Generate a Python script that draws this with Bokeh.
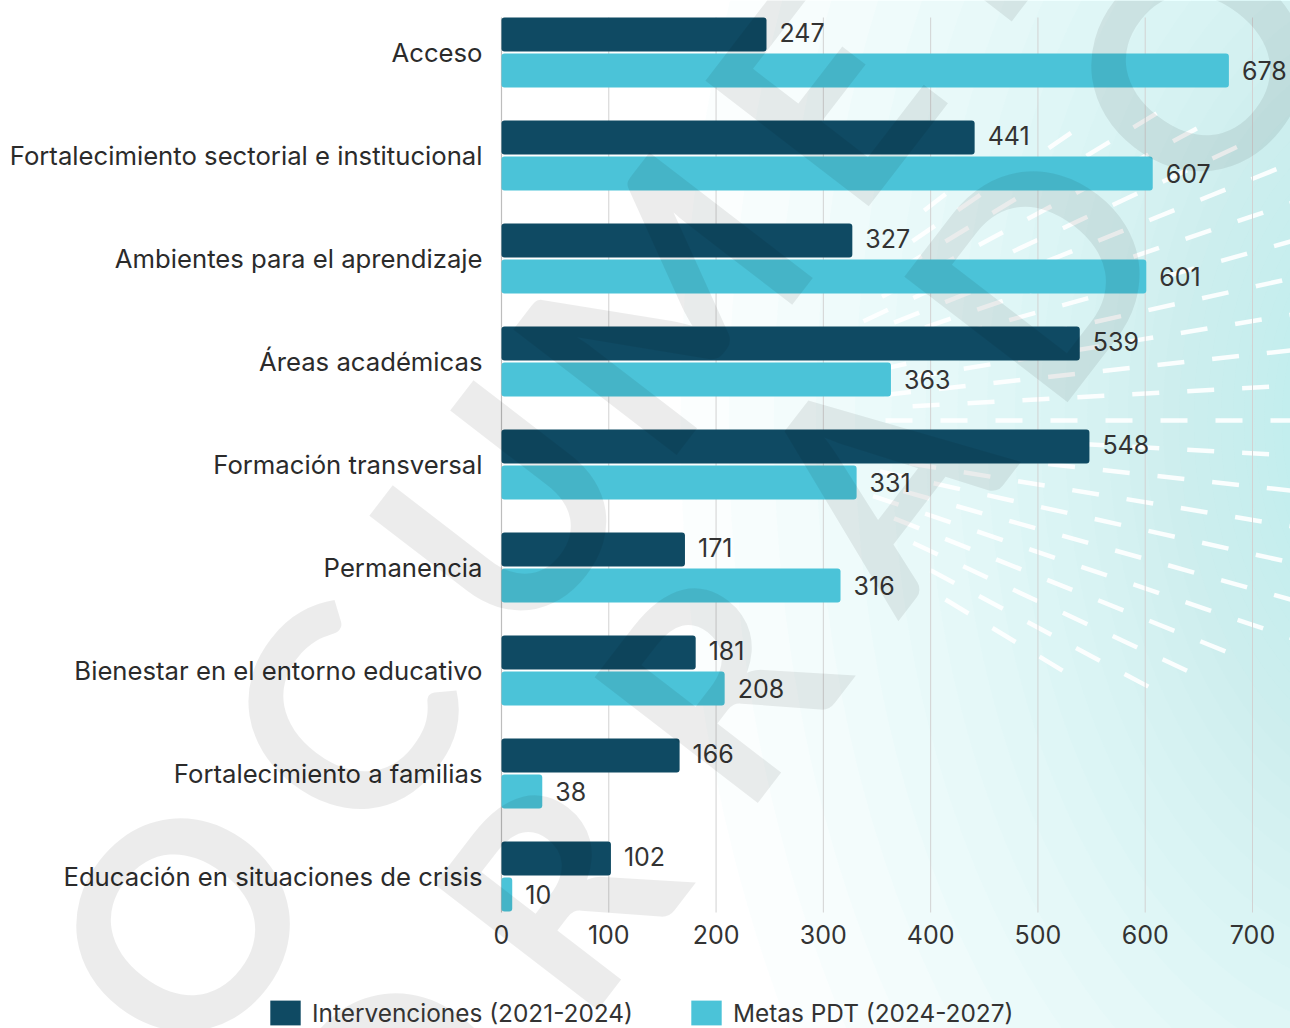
import math
from bokeh.plotting import figure
from bokeh.models import Range1d, Legend, LegendItem, Label, ColumnDataSource
from bokeh.embed import file_html
from bokeh.resources import INLINE
from bokeh.core.properties import value

# ---------------- data ----------------
categories = [
    "Acceso",
    "Fortalecimiento sectorial e institucional",
    "Ambientes para el aprendizaje",
    "Áreas académicas",
    "Formación transversal",
    "Permanencia",
    "Bienestar en el entorno educativo",
    "Fortalecimiento a familias",
    "Educación en situaciones de crisis",
]
intervenciones = [247, 441, 327, 539, 548, 171, 181, 166, 102]
metas = [678, 607, 601, 363, 331, 316, 208, 38, 10]
series_names = ["Intervenciones (2021-2024)", "Metas PDT (2024-2027)"]
x_ticks = [0, 100, 200, 300, 400, 500, 600, 700]
x_tick_labels = ["0", "100", "200", "300", "400", "500", "600", "700"]
watermark_lines = ["DOCUMENTO", "BORRADOR"]

# ---------------- style ----------------
FONT = "Inter"
DARK = "#0f4a63"
LIGHT = "#4bc3d8"
TEXT = "#333333"
BAR_H = 0.33
OFF = 0.175

W, H = 1290, 1028
n = len(categories)
pos = [n - 1 - i for i in range(n)]

PX = 751 / 700.0          # pixels per x unit
PY = 103.0                # pixels per category
X0, YC0 = 501.0, 52.0     # pixel of x=0, pixel of first category centre


def dx(X):
    return (X - X0) / PX


def dy(Y):
    return (n - 1) - (Y - YC0) / PY


Y_TOP = dy(17)     # top of the bar area
Y_BOT = dy(912)    # bottom of the bar area (x axis)

p = figure(width=W, height=H,
           x_range=Range1d(dx(0), dx(W)),
           y_range=Range1d(dy(H), dy(0)),
           x_axis_location=None, y_axis_location=None,
           output_backend="svg", toolbar_location=None,
           min_border=0)
p.outline_line_color = None
p.background_fill_color = "white"
p.border_fill_color = "white"
p.xgrid.visible = False
p.ygrid.visible = False

# ---------- background gradient (decorative) ----------
gx, gy, gw, gh = [], [], [], []
r = 720.0
while r > 60:
    gx.append(dx(1400))
    gy.append(dy(420))
    gw.append(2 * r / PX)
    gh.append(2 * r * 1.6 / PY)
    r *= 0.933
p.ellipse(x=gx, y=gy, width=gw, height=gh, fill_color="#b5e8f2",
          fill_alpha=0.06, line_color=None, level="image")

# ---------- radiating dashes (decorative) ----------
sx0, sy0, sx1, sy1 = [], [], [], []
cx, cy = 650.0, 420.0
DELTA = 60.0 / 550.0
ring = 0
rr = 235.0
while rr < 800:
    j = -8
    while j <= 8:
        a = j * DELTA + (DELTA / 2 if ring % 2 else 0)
        X = cx + rr * math.cos(a)
        Y = cy + rr * math.sin(a)
        if ((X - 1140) / 300) ** 2 + ((Y - 400) / 275) ** 2 <= 1 and X < 1300:
            X2 = cx + (rr + 27) * math.cos(a)
            Y2 = cy + (rr + 27) * math.sin(a)
            sx0.append(dx(X)); sy0.append(dy(Y))
            sx1.append(dx(X2)); sy1.append(dy(Y2))
        j += 1
    rr += 27.5
    ring += 1
p.segment(x0=sx0, y0=sy0, x1=sx1, y1=sy1, line_color="white",
          line_alpha=0.9, line_width=4.5, level="image")

# ---------------- grid + axis line ----------------
p.segment(x0=x_ticks[1:], x1=x_ticks[1:], y0=Y_BOT, y1=Y_TOP,
          line_color="#d2d2d2", line_width=1, level="underlay")
p.segment(x0=[0], x1=[0], y0=[Y_BOT], y1=[Y_TOP],
          line_color="#bdbdbd", line_width=1.2, level="underlay")

# ---------------- bars ----------------
src = ColumnDataSource(dict(
    pos=pos,
    cat=categories,
    zero=[0] * n,
    y_dark=[v + OFF for v in pos],
    y_light=[v - OFF for v in pos],
    inter=intervenciones,
    metas=metas,
    inter_txt=[str(v) for v in intervenciones],
    metas_txt=[str(v) for v in metas],
))

r_dark = p.hbar(y="y_dark", right="inter", left=0, height=BAR_H, source=src,
                fill_color=DARK, line_color=None, border_radius=3)
r_light = p.hbar(y="y_light", right="metas", left=0, height=BAR_H, source=src,
                 fill_color=LIGHT, line_color=None, border_radius=3)

# value labels
p.text(x="inter", y="y_dark", text="inter_txt", source=src, x_offset=13,
       y_offset=-2, text_baseline="middle", text_align="left",
       text_color=TEXT, text_font=value(FONT), text_font_size="25px")
p.text(x="metas", y="y_light", text="metas_txt", source=src, x_offset=13,
       text_baseline="middle", text_align="left", text_color=TEXT,
       text_font=value(FONT), text_font_size="25px")

# category labels (y axis)
p.text(x="zero", y="pos", text="cat", source=src, x_offset=-19,
       text_baseline="middle", text_align="right", text_color="#2b2b2b",
       text_font=value(FONT), text_font_size="25.7px")

# tick labels (x axis)
tsrc = ColumnDataSource(dict(x=x_ticks, y=[Y_BOT] * len(x_ticks),
                             t=x_tick_labels))
p.text(x="x", y="y", text="t", source=tsrc, y_offset=22,
       text_baseline="middle", text_align="center", text_color=TEXT,
       text_font=value(FONT), text_font_size="25px")

# ---------------- legend ----------------
legend = Legend(items=[LegendItem(label=series_names[0], renderers=[r_dark]),
                       LegendItem(label=series_names[1], renderers=[r_light])],
                location=(266, 0), orientation="horizontal",
                glyph_width=38, glyph_height=31, label_height=31,
                label_standoff=8, spacing=54, padding=0, margin=0,
                border_line_color=None, background_fill_alpha=0,
                label_text_font=FONT, label_text_font_size="24.4px",
                label_text_color=TEXT)
p.add_layout(legend)

# ---------------- watermark (decorative) ----------------
starts = [(17.0, 1127.0), (232.0, 1302.0)]
STEP = (160.0, -207.0)
for word, (sx, sy) in zip(watermark_lines, starts):
    for k, ch in enumerate(word):
        X = sx + k * STEP[0]
        Y = sy + k * STEP[1]
        if -300 < X < 1600 and -300 < Y < 1350:
            p.add_layout(Label(x=dx(X), y=dy(Y), text=ch, angle=0.915,
                               text_font="Lato", text_font_style="bold",
                               text_font_size="285px", text_color="black",
                               text_alpha=0.075, text_align="center",
                               text_baseline="middle", level="overlay"))

open("out.html", "w").write(file_html(p, INLINE))
